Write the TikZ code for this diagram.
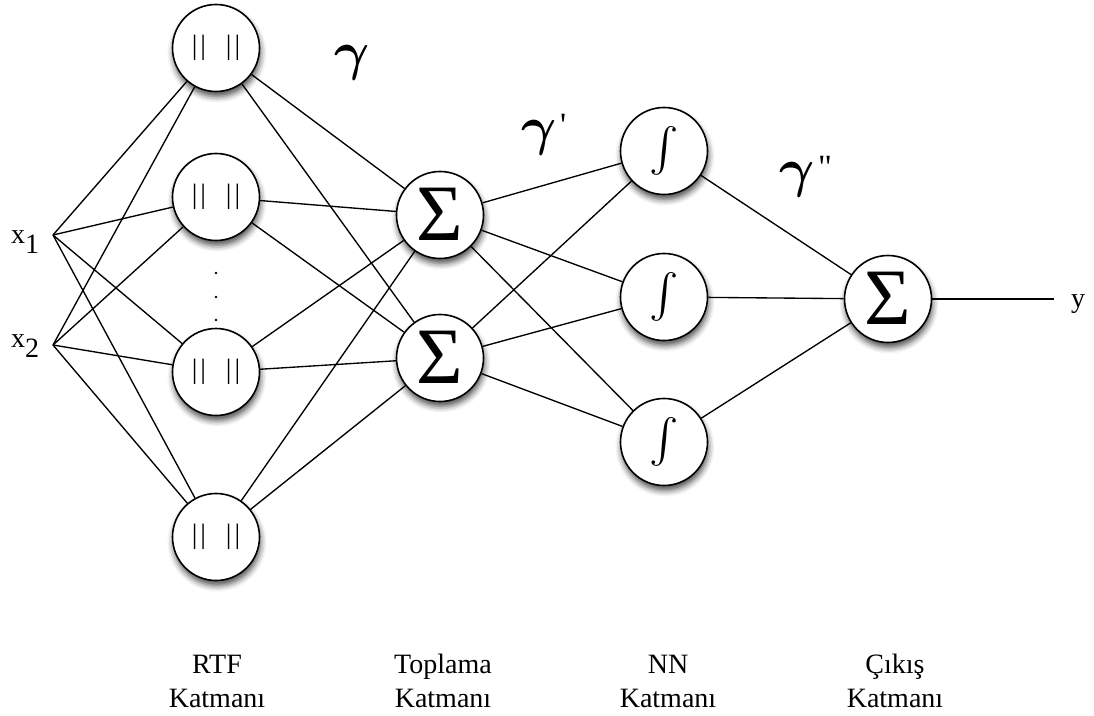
\documentclass[tikz,border=0pt]{standalone}
\usepackage{fontspec}
\setmainfont{Liberation Serif}
\usetikzlibrary{shadows.blur}
\newcommand\tickfont{\fontsize{34}{34}\selectfont}
\newcommand\wgamma{\scalebox{5.4}{\mathversion{bold}$\gamma$}}

\begin{document}
\begin{tikzpicture}[x=1pt,y=-1pt,
  unit/.style={circle, draw=black, line width=1.6pt, fill=white,
    minimum size=87pt, inner sep=0pt,
    blur shadow={shadow xshift=1pt, shadow yshift=-5pt,
      shadow blur radius=6pt, shadow opacity=70}},
  wire/.style={line width=1.35pt},
  rbf/.style={unit, font=\fontsize{28}{28}\selectfont,
    node contents={\textbar\kern3pt\textbar\hspace{20pt}\textbar\kern3pt\textbar}},
  sumunit/.style={unit, font=\fontsize{80}{80}\selectfont,
    node contents={\raisebox{1pt}{Σ}}},
  sigunit/.style={unit,
    node contents={\scalebox{4.4}{\mathversion{bold}$\int$}}},
  lab/.style={font=\fontsize{28}{34}\selectfont, align=center},
  sym/.style={font=\fontsize{28}{28}\selectfont, inner sep=0pt},
  gam/.style={font=\fontsize{10}{10}\selectfont, inner sep=0pt}
]
\useasboundingbox (0,0) rectangle (1094,715);

% inputs
\coordinate (in1) at (53,235);
\coordinate (in2) at (53,345);
\node[sym, anchor=base west] (lx1) at (11,243) {x\raisebox{-10pt}{1}};
\node[sym, anchor=base west] (lx2) at (11,347) {x\raisebox{-10pt}{2}};

% RBF layer
\node (r1) at (216,48)  [rbf];
\node (r2) at (216,197) [rbf];
\node (r3) at (216,372) [rbf];
\node (r4) at (216,537) [rbf];
\foreach \yy in {273,297,320} \fill (216,\yy) circle (1.4pt);

% summation layer
\node (s1) at (440,215) [sumunit];
\node (s2) at (440,358) [sumunit];

% NN layer
\node (n1) at (664,151) [sigunit];
\node (n2) at (664,297) [sigunit];
\node (n3) at (664,442) [sigunit];

% output
\node (o) at (888,299) [sumunit];
\coordinate (yend) at (1054,299);
\node[sym, anchor=base] (ly) at (1078,307) {y};

% connections
\foreach \r in {r1,r2,r3,r4} {
  \draw[wire] (in1) -- (\r);
  \draw[wire] (in2) -- (\r);
  \draw[wire] (\r) -- (s1);
  \draw[wire] (\r) -- (s2);
}
\foreach \s in {s1,s2}
  \foreach \n in {n1,n2,n3}
    \draw[wire] (\s) -- (\n);
\foreach \n in {n1,n2,n3}
  \draw[wire] (\n) -- (o);
\draw[wire] (o) -- (yend);

% weight labels
\node[gam] (g1) at (352,63) {\wgamma};
\node[gam] (g2) at (544,135) {\wgamma\kern3pt\raisebox{8pt}{\tickfont\textquotesingle}};
\node[gam] (g3) at (806,177) {\wgamma\kern3pt\raisebox{8pt}{\tickfont\textquotedbl}};

% layer captions
\node[lab, anchor=base] (c1) at (217,707) {RTF\\Katmanı};
\node[lab, anchor=base] (c2) at (443,707) {Toplama\\Katmanı};
\node[lab, anchor=base] (c3) at (668,707) {NN\\Katmanı};
\node[lab, anchor=base] (c4) at (895,707) {Çıkış\\Katmanı};
\end{tikzpicture}
\end{document}
